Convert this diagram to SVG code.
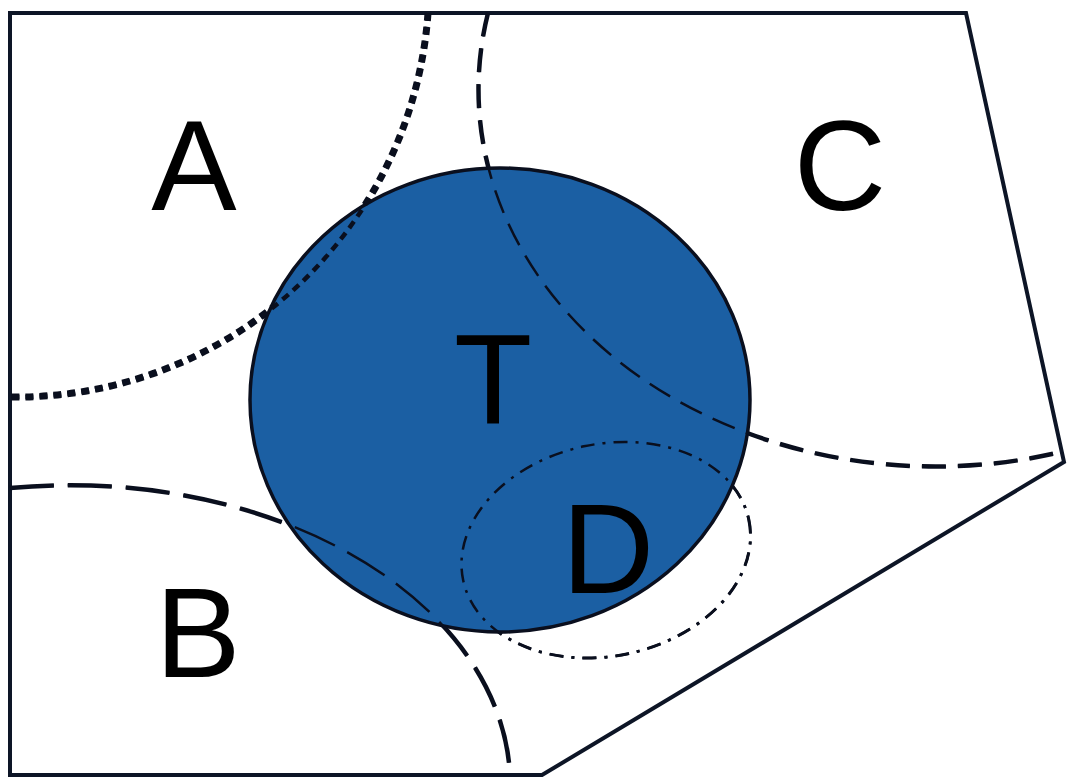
<svg xmlns="http://www.w3.org/2000/svg" width="1067" height="778" viewBox="0 0 1067 778">
<style>
.bd{fill:none;stroke:#0d1526;stroke-width:4;stroke-linejoin:miter}
.lbl{font-family:"Liberation Sans",Arial,sans-serif;font-size:128px;fill:#000;text-anchor:middle}
.ln{fill:none;stroke:#0a0f1e}
.dot{stroke-dasharray:8 6}
.dash{stroke-dasharray:24 12}
.dashb{stroke-dasharray:44 14}
.dd{stroke-dasharray:14 8 3 8}
.w7{stroke-width:7}.w4{stroke-width:4.5}.w3{stroke-width:3}.w2{stroke-width:2.5}
</style>
<defs>
<path id="pA" d="M 428 13 A 413 413 0 0 1 10 397"/>
<path id="pC" d="M 488 13 A 457 377 0 0 0 1061 452"/>
<path id="pB" d="M 10 488 A 440 300 0 0 1 510 775"/>
<ellipse id="pD" cx="606" cy="550" rx="146" ry="106" transform="rotate(-12 606 550)"/>
</defs>
<rect width="1067" height="778" fill="#fff"/>
<g id="boundary">
<polygon class="bd" points="10,13 966,13 1064,462 542,775 10,775"/>
</g>
<g id="connectors-under">
<use href="#pA" class="ln dot w7"/>
<use href="#pC" class="ln dash w4"/>
<use href="#pB" class="ln dashb w4"/>
<use href="#pD" class="ln dd w3"/>
</g>
<g id="T">
<ellipse cx="500" cy="400" rx="250" ry="232" fill="#1b5fa3" stroke="#0a0f1e" stroke-width="3.5"/>
</g>
<g id="connectors">
<use href="#pA" class="ln dot w4"/>
<use href="#pC" class="ln dash w2"/>
<use href="#pB" class="ln dashb w2"/>
<use href="#pD" class="ln dd w2"/>
</g>
<g id="labels">
<text id="A" class="lbl" x="194" y="210">A</text>
<text id="C" class="lbl" x="840" y="210">C</text>
<text id="Tl" class="lbl" x="493" y="423">T</text>
<text id="B" class="lbl" x="198" y="677">B</text>
<text id="D" class="lbl" x="608" y="593">D</text>
</g>
</svg>
